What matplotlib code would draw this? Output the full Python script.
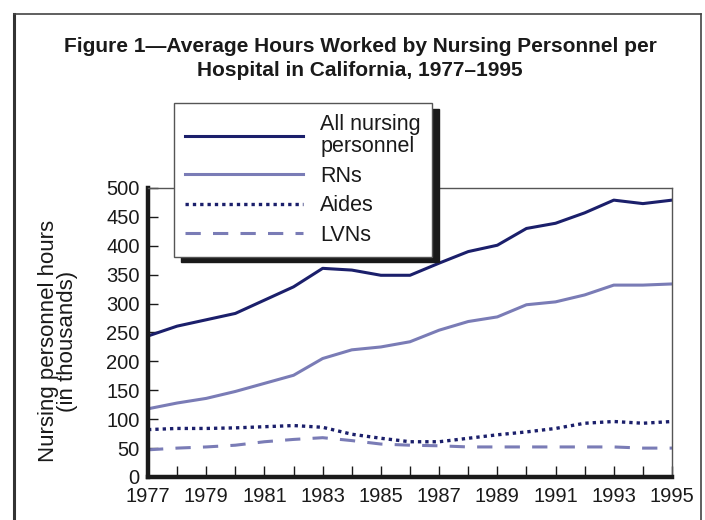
import matplotlib
matplotlib.use("Agg")
import matplotlib.pyplot as plt
from matplotlib.lines import Line2D

plt.rcParams['font.family'] = ['Liberation Sans', 'DejaVu Sans']

years = list(range(1977, 1996))
all_nursing = [244, 261, 272, 283, 306, 329, 361, 358, 349, 349, 370, 390, 401, 430, 439, 457, 479, 473, 479]
rns = [118, 128, 136, 148, 162, 176, 205, 220, 225, 234, 254, 269, 277, 298, 303, 315, 332, 332, 334]
aides = [82, 84, 84, 85, 87, 89, 86, 74, 67, 61, 61, 67, 73, 78, 84, 93, 96, 93, 96]
lvns = [47, 50, 52, 55, 61, 65, 68, 63, 57, 55, 54, 52, 52, 52, 52, 52, 52, 50, 50]

labels = ["All nursing\npersonnel", "RNs", "Aides", "LVNs"]
yticks = list(range(0, 501, 50))

dark = "#1b1f6b"
light = "#7a7cb6"

W, H = 705, 520
fig = plt.figure(figsize=(W / 100, H / 100), dpi=100)

fig.add_artist(Line2D([14 / W, 14 / W], [0, 1 - 14 / H], color="#333333", lw=2.2, transform=fig.transFigure))
fig.add_artist(Line2D([14 / W, 701 / W], [1 - 14 / H, 1 - 14 / H], color="#444444", lw=1.2, transform=fig.transFigure))
fig.add_artist(Line2D([701 / W, 701 / W], [0, 1 - 14 / H], color="#444444", lw=1.2, transform=fig.transFigure))

fig.text(360 / W, 1 - 47 / H, "Figure 1\u2014Average Hours Worked by Nursing Personnel per",
         ha="center", va="center", fontsize=15, fontweight="bold", color="#1a1a1a")
fig.text(360 / W, 1 - 70 / H, "Hospital in California, 1977\u20131995",
         ha="center", va="center", fontsize=15, fontweight="bold", color="#1a1a1a")

ax = fig.add_axes([148 / W, 1 - 477 / H, (672 - 148) / W, (477 - 188) / H])
l1, = ax.plot(years, all_nursing, color=dark, lw=2.2)
l2, = ax.plot(years, rns, color=light, lw=2.2)
l3, = ax.plot(years, aides, color=dark, lw=2.4, linestyle=(0, (1, 1.2)))
l4, = ax.plot(years, lvns, color=light, lw=2.2, linestyle=(0, (5, 4)))

ax.set_xlim(1977, 1995)
ax.set_ylim(0, 500)
ax.set_xticks(years)
ax.set_xticklabels([str(y) if (y - 1977) % 2 == 0 else "" for y in years])
ax.set_yticks(yticks)
ax.set_yticklabels([str(v) for v in yticks])
ax.tick_params(axis="both", direction="in", labelsize=14.5, colors="#1a1a1a", width=1.0)
ax.tick_params(axis="x", length=8, pad=7)
ax.tick_params(axis="y", length=7, pad=6)
for s in ["left", "bottom"]:
    ax.spines[s].set_linewidth(3.2)
    ax.spines[s].set_color("#1a1a1a")
for s in ["right", "top"]:
    ax.spines[s].set_linewidth(1.0)
    ax.spines[s].set_color("#555555")

fig.text(58 / W, 1 - 341 / H, "Nursing personnel hours\n(in thousands)", rotation=90,
         ha="center", va="center", fontsize=16, color="#1a1a1a", linespacing=0.88, multialignment="center")

leg = ax.legend([l1, l2, l3, l4], labels, loc="upper left",
                bbox_to_anchor=(174 / W, 1 - 103 / H), bbox_transform=fig.transFigure,
                fontsize=15.5, handlelength=5.5, handletextpad=0.8, borderpad=0.5,
                labelspacing=0.4, frameon=True, fancybox=False, framealpha=1,
                edgecolor="#555555", borderaxespad=0,
                shadow={"ox": 5, "oy": -4, "color": "#1a1a1a", "alpha": 1})
leg.get_frame().set_linewidth(1.0)
for t in leg.get_texts():
    t.set_color("#1a1a1a")
    t.set_linespacing(1.08)
leg.set_zorder(10)

fig.savefig("out.png", dpi=100)
